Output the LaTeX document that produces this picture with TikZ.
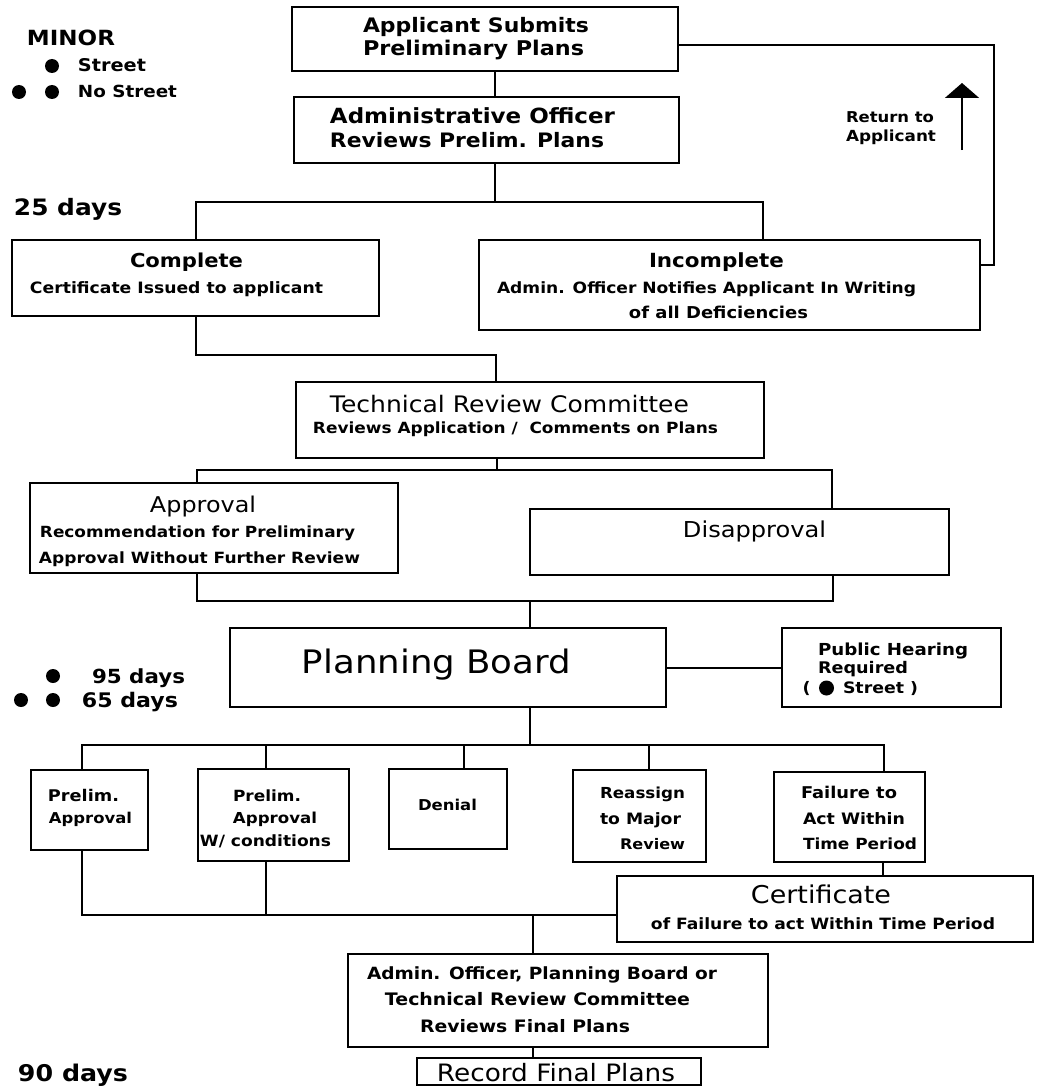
\documentclass[tikz,border=0pt]{standalone}
\usepackage{fontspec}
\setmainfont{DejaVu Sans}[FakeStretch=1.1]
\usepackage{graphicx}
\usetikzlibrary{arrows.meta}
\newcommand\fitw[2]{\resizebox{#1pt}{!}{#2}}
\newcommand\mkbox[5]{\node[bx, minimum width={(#4-#2)*1pt}, minimum height={(#5-#3)*1pt}] (#1) at (#2,#3) {};}
\tikzset{
  bx/.style={draw, line width=2pt, inner sep=0pt, outer sep=0pt, anchor=north west},
  ln/.style={line width=2pt, line join=miter},
  lb/.style={anchor=base, inner sep=0pt, outer sep=0pt},
  dot/.style={circle, fill=black, inner sep=0pt, minimum size=14pt}
}
\begin{document}
\begin{tikzpicture}[x=1pt,y=-1pt]
\fill[white] (0,0) rectangle (1042,1089);
\useasboundingbox (0,0) rectangle (1042,1089);

% boxes
\mkbox{A}{292}{7}{678}{71}
\mkbox{B}{294}{97}{679}{163}
\mkbox{Cmp}{12}{240}{379}{316}
\mkbox{Inc}{479}{240}{980}{330}
\mkbox{TRC}{296}{382}{764}{458}
\mkbox{Apr}{30}{483}{398}{573}
\mkbox{Dis}{530}{509}{949}{575}
\mkbox{PB}{230}{628}{666}{707}
\mkbox{PH}{782}{628}{1001}{707}
\mkbox{P1}{31}{770}{148}{850}
\mkbox{P2}{198}{769}{349}{861}
\mkbox{P3}{389}{769}{507}{849}
\mkbox{P4}{573}{770}{706}{862}
\mkbox{P5}{774}{772}{925}{862}
\mkbox{Cert}{617}{876}{1033}{942}
\mkbox{Fin}{348}{954}{768}{1047}
\mkbox{Rec}{417}{1058}{701}{1085}

% connectors
\coordinate (ab) at (495,0);
\draw[ln] (A.south -| ab) -- (B.north -| ab);
\coordinate (s1) at (495,202); \coordinate (s1l) at (196,202); \coordinate (s1r) at (763,202);
\draw[ln] (B.south -| s1) -- (s1);
\draw[ln] (Cmp.north -| s1l) -- (s1l) -- (s1r) -- (Inc.north -| s1r);
\coordinate (r1) at (994,45); \coordinate (r2) at (994,265);
\draw[ln] (A.east |- r1) -- (r1) -- (r2) -- (Inc.east |- r2);
\coordinate (arS) at (962,150); \coordinate (arE) at (962,83);
\draw[ln, -{Triangle[width=34pt,length=15pt]}] (arS) -- (arE);
\coordinate (c1) at (196,355); \coordinate (c2) at (496,355);
\draw[ln] (Cmp.south -| c1) -- (c1) -- (c2) -- (TRC.north -| c2);
\coordinate (t0) at (497,470); \coordinate (t1) at (197,470); \coordinate (t2) at (832,470);
\draw[ln] (TRC.south -| t0) -- (t0);
\draw[ln] (Apr.north -| t1) -- (t1) -- (t2) -- (Dis.north -| t2);
\coordinate (u0) at (530,601); \coordinate (u1) at (197,601); \coordinate (u2) at (833,601);
\draw[ln] (Apr.south -| u1) -- (u1) -- (u2) -- (Dis.south -| u2);
\draw[ln] (u0) -- (PB.north -| u0);
\draw[ln] (PB.east) -- (PH.west);
\coordinate (v0) at (530,745); \coordinate (v1) at (82,745); \coordinate (v2) at (266,745);
\coordinate (v3) at (464,745); \coordinate (v4) at (649,745); \coordinate (v5) at (884,745);
\draw[ln] (PB.south -| v0) -- (v0);
\draw[ln] (P1.north -| v1) -- (v1) -- (v5) -- (P5.north -| v5);
\draw[ln] (v2) -- (P2.north -| v2);
\draw[ln] (v3) -- (P3.north -| v3);
\draw[ln] (v4) -- (P4.north -| v4);
\coordinate (w) at (883,0);
\draw[ln] (P5.south -| w) -- (Cert.north -| w);
\coordinate (x0) at (533,915); \coordinate (x1) at (82,915); \coordinate (x2) at (266,915);
\draw[ln] (P1.south -| x1) -- (x1) -- (Cert.west |- x1);
\draw[ln] (P2.south -| x2) -- (x2);
\draw[ln] (x0) -- (Fin.north -| x0);
\coordinate (y0) at (533,0);
\draw[ln] (Fin.south -| y0) -- (Rec.north -| y0);

% legend
\node[lb] (minor) at (71,46) {\fitw{88}{\bfseries MINOR}};
\node[dot] (d1) at (52,66) {};
\node[lb] (st1) at (112,72) {\fitw{68}{\bfseries Street}};
\node[dot] (d2) at (19,92) {};
\node[dot] (d3) at (52,92) {};
\node[lb] (st2) at (127.5,98) {\fitw{99}{\bfseries No Street}};
\node[lb] (d25) at (68,215) {\fitw{108}{\bfseries 25 days}};
\node[dot] (d4) at (53,676) {};
\node[lb] (d95) at (138.5,683) {\fitw{93}{\bfseries 95 days}};
\node[dot] (d5) at (21,700) {};
\node[dot] (d6) at (53,700) {};
\node[lb] (d65) at (130,707) {\fitw{96}{\bfseries 65 days}};
\node[lb] (d90) at (73,1081) {\fitw{110}{\bfseries 90 days}};

% box texts
\node[lb] (tA1) at (476,33) {\fitw{226}{\bfseries Applicant Submits}};
\node[lb] (tA2) at (473.5,56) {\fitw{221}{\bfseries Preliminary Plans}};
\node[lb] (tB1) at (472.5,124) {\fitw{285}{\bfseries Administrative Officer}};
\node[lb] (tB2) at (467,147) {\fitw{274}{\bfseries Reviews Prelim. Plans}};
\node[lb] (tR1) at (890,123) {\fitw{88}{\bfseries Return to}};
\node[lb] (tR2) at (891,142) {\fitw{90}{\bfseries Applicant}};
\node[lb] (tC1) at (186.5,267) {\fitw{113}{\bfseries Complete}};
\node[lb] (tC2) at (176.5,293) {\fitw{293}{\bfseries Certificate Issued to applicant}};
\node[lb] (tI1) at (716.5,267) {\fitw{135}{\bfseries Incomplete}};
\node[lb] (tI2) at (706.5,293) {\fitw{419}{\bfseries Admin. Officer Notifies Applicant In Writing}};
\node[lb] (tI3) at (718.5,318) {\fitw{179}{\bfseries of all Deficiencies}};
\node[lb] (tT1) at (509.5,412) {\fitw{359}{Technical Review Committee}};
\node[lb] (tT2) at (515.5,433) {\fitw{405}{\bfseries Reviews Application /\ \ Comments on Plans}};
\node[lb] (tAp1) at (203,512) {\fitw{106}{Approval}};
\node[lb] (tAp2) at (197.5,537) {\fitw{315}{\bfseries Recommendation for Preliminary}};
\node[lb] (tAp3) at (199.5,563) {\fitw{321}{\bfseries Approval Without Further Review}};
\node[lb] (tD1) at (754.5,537) {\fitw{143}{Disapproval}};
\node[lb] (tPB) at (436.5,673) {\fitw{269}{Planning Board}};
\node[lb] (tH1) at (893,655) {\fitw{150}{\bfseries Public Hearing}};
\node[lb] (tH2) at (863,673) {\fitw{90}{\bfseries Required}};
\node[lb] (tH3a) at (806.5,693) {\fitw{8}{\bfseries (}};
\node[dot, minimum size=15pt] (d7) at (826.5,688) {};
\node[lb] (tH3b) at (880.5,693) {\fitw{75}{\bfseries Street )}};
\node[lb] (t11) at (83.5,801) {\fitw{71}{\bfseries Prelim.}};
\node[lb] (t12) at (90.5,823) {\fitw{83}{\bfseries Approval}};
\node[lb] (t21) at (267,801) {\fitw{68}{\bfseries Prelim.}};
\node[lb] (t22) at (275,823) {\fitw{84}{\bfseries Approval}};
\node[lb] (t23) at (265.5,846) {\fitw{131}{\bfseries W/ conditions}};
\node[lb] (t31) at (447.5,810) {\fitw{59}{\bfseries Denial}};
\node[lb] (t41) at (642.5,798) {\fitw{85}{\bfseries Reassign}};
\node[lb] (t42) at (640.5,824) {\fitw{81}{\bfseries to Major}};
\node[lb] (t43) at (652.5,849) {\fitw{65}{\bfseries Review}};
\node[lb] (t51) at (849,798) {\fitw{96}{\bfseries Failure to}};
\node[lb] (t52) at (854,824) {\fitw{102}{\bfseries Act Within}};
\node[lb] (t53) at (860,849) {\fitw{114}{\bfseries Time Period}};
\node[lb] (tCe1) at (821,903) {\fitw{140}{Certificate}};
\node[lb] (tCe2) at (823,929) {\fitw{344}{\bfseries of Failure to act Within Time Period}};
\node[lb] (tF1) at (542,979) {\fitw{350}{\bfseries Admin. Officer, Planning Board or}};
\node[lb] (tF2) at (537.5,1005) {\fitw{305}{\bfseries Technical Review Committee}};
\node[lb] (tF3) at (525,1032) {\fitw{210}{\bfseries Reviews Final Plans}};
\node[lb] (tRec) at (556,1081) {\fitw{238}{Record Final Plans}};
\end{tikzpicture}
\end{document}
